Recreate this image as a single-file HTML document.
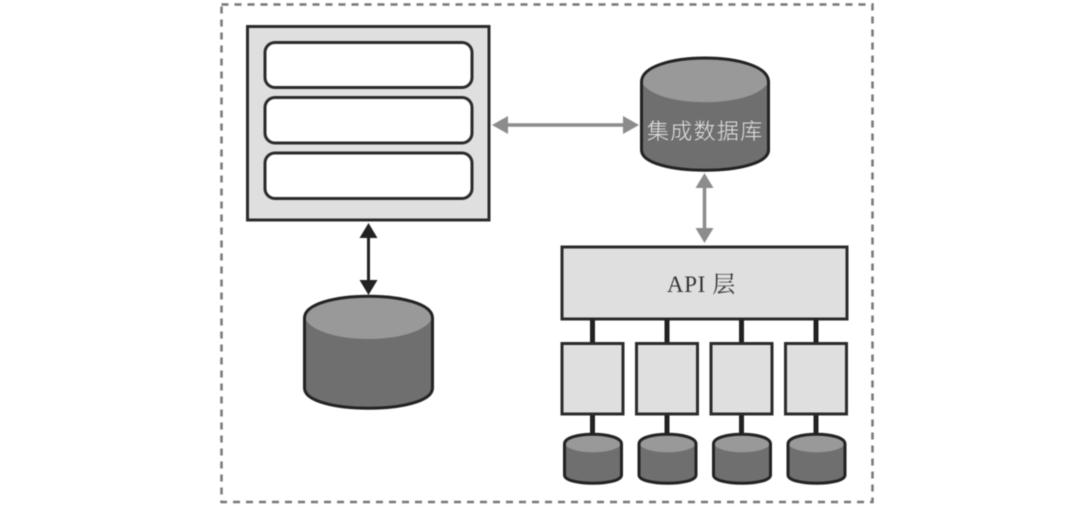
<!DOCTYPE html>
<html><head><meta charset="utf-8"><style>html,body{margin:0;padding:0;background:#fff;width:1080px;height:515px;overflow:hidden}svg{display:block;filter:blur(.4px)}</style></head><body>
<svg width="1080" height="515" viewBox="0 0 1080 515" xmlns="http://www.w3.org/2000/svg">
<defs>
<g id="c"><path d="M564.500 444c0-13 57-13 57 0v31c0 11-57 11-57 0z" fill="#6f6f6f"/><path d="M564.500 444c0-13 57-13 57 0c-6 11-51 11-57 0z" fill="#999"/><path d="M564.500 444c0-13 57-13 57 0v31c0 11-57 11-57 0z" fill="none" stroke="#222" stroke-width="3"/></g>
</defs>
<rect x="221.500" y="4.500" width="651" height="497.500" fill="none" stroke="#777" stroke-width="2.500" stroke-dasharray="7 6"/>
<rect x="247.500" y="26.500" width="241.500" height="193.500" fill="#dfdfdf" stroke="#2b2b2b" stroke-width="3"/>
<rect x="265" y="42.500" width="207" height="45" rx="10" fill="#fff" stroke="#2b2b2b" stroke-width="3"/>
<rect x="265" y="97.500" width="207" height="45.500" rx="10" fill="#fff" stroke="#2b2b2b" stroke-width="3"/>
<rect x="265" y="153" width="207" height="45.500" rx="10" fill="#fff" stroke="#2b2b2b" stroke-width="3"/>
<path d="M506 125h120" stroke="#8c8c8c" stroke-width="3.500"/><path d="M492 125l16-9v18zM639 125l-16-9v18z" fill="#8c8c8c"/>
<path d="M704.500 185v46" stroke="#8c8c8c" stroke-width="3.500"/><path d="M704.500 173l-9 15h18zM704.500 243l-9-15h18z" fill="#8c8c8c"/>
<path d="M368.500 236v46" stroke="#222" stroke-width="3"/><path d="M368.500 223l-9 15h18zM368.500 295l-9-15h18z" fill="#222"/>
<path d="M641.500 82c0-32 127-32 127 0v68c0 27-127 27-127 0z" fill="#6f6f6f"/>
<path d="M641.500 82c0-32 127-32 127 0c-14 27-113 27-127 0z" fill="#999"/>
<path d="M641.500 82c0-32 127-32 127 0v68c0 27-127 27-127 0z" fill="none" stroke="#222" stroke-width="3"/>
<path d="M304.500 318c0-29 128-29 128 0v70c0 27-128 27-128 0z" fill="#6f6f6f"/>
<path d="M304.500 318c0-29 128-29 128 0c-14 28-114 28-128 0z" fill="#999"/>
<path d="M304.500 318c0-29 128-29 128 0v70c0 27-128 27-128 0z" fill="none" stroke="#222" stroke-width="3"/>
<rect x="562" y="247" width="285" height="72" fill="#dfdfdf" stroke="#2b2b2b" stroke-width="3"/>
<path d="M592.500 319v25M667 319v25M741.500 319v25M816 319v25" stroke="#222" stroke-width="5"/>
<path d="M592.500 414v22M667 414v22M741.500 414v22M816 414v22" stroke="#222" stroke-width="5"/>
<g fill="#dfdfdf" stroke="#2b2b2b" stroke-width="3"><rect x="562" y="343.500" width="61" height="70.500"/><rect x="636.500" y="343.500" width="61" height="70.500"/><rect x="711" y="343.500" width="61" height="70.500"/><rect x="785.500" y="343.500" width="61" height="70.500"/></g>
<use href="#c"/><use href="#c" x="74.500"/><use href="#c" x="149"/><use href="#c" x="223.500"/>
<text x="647" y="139" font-family="'Noto Sans CJK SC',sans-serif" font-size="22" font-weight="300" letter-spacing="1.300" fill="#e4e4e4">集成数据库</text>
<text x="667" y="292" font-family="'Liberation Serif','Noto Serif CJK SC',serif" font-size="23" letter-spacing=".6" fill="#333">API 层</text>
</svg>
</body></html>
